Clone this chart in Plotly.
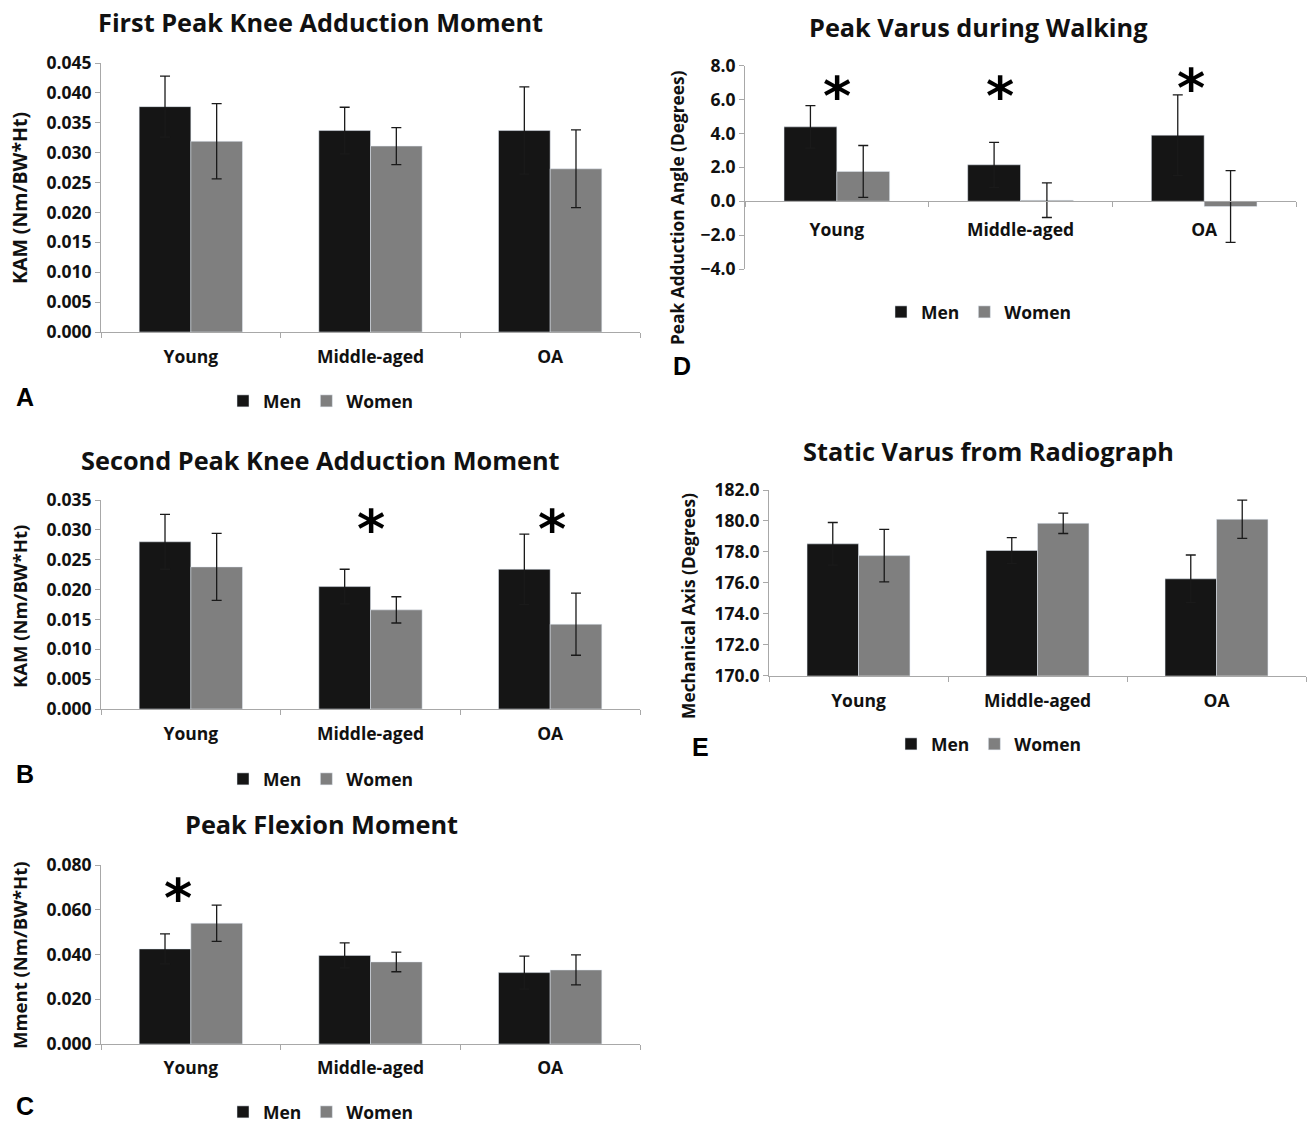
import plotly.graph_objects as go

W, H = 1309, 1123

categories = ["Young", "Middle-aged", "OA"]

# Panel A: First peak KAM
a_men = [0.0377, 0.0337, 0.0337]
a_men_sd = [0.0051, 0.0039, 0.0073]
a_women = [0.0319, 0.0311, 0.0273]
a_women_sd = [0.0063, 0.0031, 0.0065]

# Panel B: Second peak KAM
b_men = [0.0280, 0.0205, 0.0234]
b_men_sd = [0.0046, 0.0029, 0.0059]
b_women = [0.0238, 0.0166, 0.0142]
b_women_sd = [0.0056, 0.0022, 0.0052]

# Panel C: Peak flexion moment
c_men = [0.0425, 0.0396, 0.0319]
c_men_sd = [0.0067, 0.0056, 0.0074]
c_women = [0.0540, 0.0367, 0.0331]
c_women_sd = [0.0081, 0.0044, 0.0067]

# Panel D: Peak varus during walking
d_men = [4.39, 2.15, 3.90]
d_men_sd = [1.25, 1.33, 2.38]
d_women = [1.76, 0.06, -0.31]
d_women_sd = [1.53, 1.02, 2.12]

# Panel E: Static varus from radiograph
e_men = [178.52, 178.09, 176.26]
e_men_sd = [1.38, 0.83, 1.54]
e_women = [177.76, 179.85, 180.11]
e_women_sd = [1.70, 0.66, 1.23]

# significance markers (category, height in data units, pixel shift)
b_star_cats = ["Middle-aged", "OA"]
b_star_vals = [0.0317, 0.0317]
b_star_shift = [0, 2]
c_star_cats = ["Young"]
c_star_vals = [0.0697]
c_star_shift = [-13]
d_star_cats = ["Young", "Middle-aged", "OA"]
d_star_vals = [6.75, 6.75, 7.24]
d_star_shift = [0, -21, -13]
e_star_cats = ["Middle-aged", "OA"]
e_star_vals = [182.7, 182.7]
e_star_shift = [3, 4]

MEN_COLOR = "#151515"
WOMEN_COLOR = "#7f7f7f"
AXIS_COLOR = "#a8a8a8"
TEXT_COLOR = "#111111"
FONT = "Open Sans"


def fx(px):
    return px / W


def fy(py):
    return 1 - py / H


panels = [
    dict(men=a_men, men_sd=a_men_sd, women=a_women, women_sd=a_women_sd,
         xdom=(101, 640), ydom=(63, 332), yrange=[0, 0.045], dtick=0.005, fmt=".3f",
         title="First Peak Knee Adduction Moment", title_xy=(320, 22),
         ytitle="KAM (Nm/BW*Ht)", ytitle_xy=(19, 198), ytitle_size=19.5,
         letter="A", letter_xy=(25, 397), legend_xy=(321, 401), standoff=9,
         stars=([], [], []), zero_axis=False),
    dict(men=b_men, men_sd=b_men_sd, women=b_women, women_sd=b_women_sd,
         xdom=(101, 640), ydom=(500, 709), yrange=[0, 0.035], dtick=0.005, fmt=".3f",
         title="Second Peak Knee Adduction Moment", title_xy=(320, 460),
         ytitle="KAM (Nm/BW*Ht)", ytitle_xy=(19, 607), ytitle_size=18.5,
         letter="B", letter_xy=(25, 774), legend_xy=(321, 779), standoff=9,
         stars=(b_star_cats, b_star_vals, b_star_shift), zero_axis=False),
    dict(men=c_men, men_sd=c_men_sd, women=c_women, women_sd=c_women_sd,
         xdom=(101, 640), ydom=(865, 1044), yrange=[0, 0.080], dtick=0.020, fmt=".3f",
         title="Peak Flexion Moment", title_xy=(321, 824),
         ytitle="Mment (Nm/BW*Ht)", ytitle_xy=(19, 955), ytitle_size=18.5,
         letter="C", letter_xy=(25, 1106), legend_xy=(321, 1112), standoff=8,
         stars=(c_star_cats, c_star_vals, c_star_shift), zero_axis=False),
    dict(men=d_men, men_sd=d_men_sd, women=d_women, women_sd=d_women_sd,
         xdom=(745, 1296), ydom=(65.7, 269), yrange=[-4, 8], dtick=2, fmt=".1f",
         title="Peak Varus during Walking", title_xy=(978, 27),
         ytitle="Peak Adduction Angle (Degrees)", ytitle_xy=(678, 208), ytitle_size=17.3,
         letter="D", letter_xy=(682, 366), legend_xy=(979, 312), standoff=13,
         stars=(d_star_cats, d_star_vals, d_star_shift), zero_axis=True),
    dict(men=e_men, men_sd=e_men_sd, women=e_women, women_sd=e_women_sd,
         xdom=(769, 1306), ydom=(490, 675.7), yrange=[170, 182], dtick=2, fmt=".1f",
         title="Static Varus from Radiograph", title_xy=(988, 451),
         ytitle="Mechanical Axis (Degrees)", ytitle_xy=(688, 606), ytitle_size=17.4,
         letter="E", letter_xy=(700, 747), legend_xy=(989, 744), standoff=9,
         stars=(e_star_cats, e_star_vals, e_star_shift), zero_axis=False),
]

fig = go.Figure()
annotations = []
layout = dict(
    width=W, height=H,
    margin=dict(l=0, r=0, t=0, b=0, pad=0, autoexpand=False),
    paper_bgcolor="white", plot_bgcolor="white",
    font=dict(family=FONT, size=16, color=TEXT_COLOR, weight="bold"),
    barmode="group", bargap=0.425, bargroupgap=0,
    showlegend=True,
)

for i, p in enumerate(panels, start=1):
    sfx = "" if i == 1 else str(i)
    xa, ya = "x" + sfx, "y" + sfx
    leg = "legend" + sfx
    err = dict(type="data", visible=True, color="#1a1a1a", thickness=1.3, width=5)
    fig.add_trace(go.Bar(x=categories, y=p["men"], name="Men", marker_color=MEN_COLOR,
                         error_y=dict(array=p["men_sd"], **err),
                         xaxis=xa, yaxis=ya, legend=leg, offsetgroup="m" + sfx))
    fig.add_trace(go.Bar(x=categories, y=p["women"], name="Women", marker_color=WOMEN_COLOR,
                         error_y=dict(array=p["women_sd"], **err),
                         xaxis=xa, yaxis=ya, legend=leg, offsetgroup="w" + sfx))

    y0, y1 = p["yrange"]
    dom_bottom, dom_top = fy(p["ydom"][1]), fy(p["ydom"][0])
    xaxis = dict(
        domain=[fx(p["xdom"][0]), fx(p["xdom"][1])],
        type="category", showline=True, linecolor=AXIS_COLOR, linewidth=1,
        ticks="outside", tickson="boundaries", ticklen=5, tickcolor=AXIS_COLOR,
        showgrid=False, zeroline=False, tickfont=dict(size=17.5, color=TEXT_COLOR),
        ticklabelstandoff=p["standoff"], fixedrange=True, automargin=False,
    )
    if p["zero_axis"]:
        pos = dom_bottom + (0 - y0) / (y1 - y0) * (dom_top - dom_bottom)
        xaxis.update(anchor="free", position=pos)
    else:
        xaxis.update(anchor=ya)
    yaxis = dict(
        domain=[dom_bottom, dom_top], anchor=xa, range=[y0, y1], dtick=p["dtick"],
        tick0=y0, tickformat=p["fmt"], showline=True, linecolor=AXIS_COLOR, linewidth=1,
        ticks="outside", ticklen=5, tickcolor=AXIS_COLOR, showgrid=False, zeroline=False,
        tickfont=dict(size=17.5, color=TEXT_COLOR), fixedrange=True, automargin=False,
    )
    layout["xaxis" + sfx] = xaxis
    layout["yaxis" + sfx] = yaxis
    layout[leg] = dict(
        orientation="h", x=fx(p["legend_xy"][0]), y=fy(p["legend_xy"][1]),
        xanchor="center", yanchor="middle", font=dict(size=17.5, color=TEXT_COLOR),
        bgcolor="rgba(0,0,0,0)", itemwidth=30, tracegroupgap=0,
    )

    annotations.append(dict(
        text=p["title"], xref="paper", yref="paper",
        x=fx(p["title_xy"][0]), y=fy(p["title_xy"][1]), xanchor="center", yanchor="middle",
        showarrow=False, font=dict(size=25.3, color=TEXT_COLOR)))
    annotations.append(dict(
        text=p["ytitle"], xref="paper", yref="paper", textangle=-90,
        x=fx(p["ytitle_xy"][0]), y=fy(p["ytitle_xy"][1]), xanchor="center", yanchor="middle",
        showarrow=False, font=dict(size=p["ytitle_size"], color=TEXT_COLOR)))
    annotations.append(dict(
        text=p["letter"], xref="paper", yref="paper",
        x=fx(p["letter_xy"][0]), y=fy(p["letter_xy"][1]), xanchor="center", yanchor="middle",
        showarrow=False, font=dict(family="Liberation Sans", size=25, color="#000000")))
    for cat, val, shift in zip(*p["stars"]):
        annotations.append(dict(
            text="*", xref=xa, yref=ya, x=cat, y=val, xshift=shift, yshift=-10,
            xanchor="center", yanchor="middle", showarrow=False,
            font=dict(family="DejaVu Sans", size=54, color="#000000")))

layout["annotations"] = annotations
fig.update_layout(**layout)
fig.write_html(
    "out.html",
    config={"displayModeBar": False},
    post_script="document.body.style.margin='0';document.body.style.overflow='hidden';",
)
